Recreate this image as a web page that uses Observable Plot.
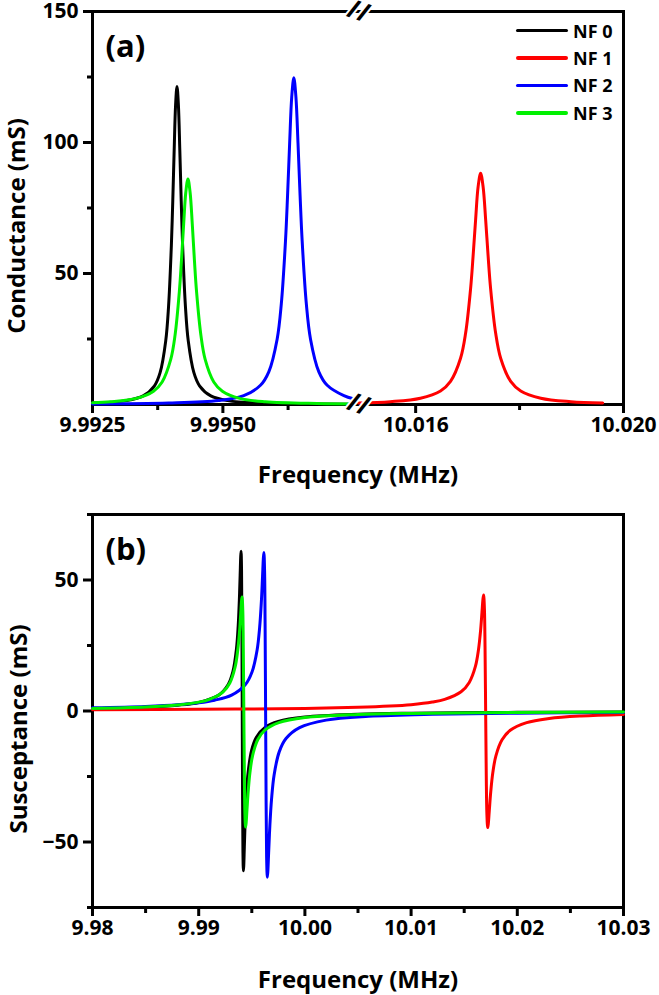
<!DOCTYPE html>
<html><head><meta charset="utf-8">
<script src="https://cdn.jsdelivr.net/npm/d3@7"></script>
<script src="https://cdn.jsdelivr.net/npm/@observablehq/plot@0.6"></script>
<style>
body{margin:0;background:#fff;font-family:"Open Sans",sans-serif;font-weight:700;}
#wrap{position:relative;width:659px;height:995px;}
#legend{position:absolute;left:516px;top:17px;}
.row{display:flex;align-items:center;height:27.4px;font-size:18px;color:#000;}
.sw{width:52px;height:3.5px;margin-right:5px;border-radius:2px;}
svg{display:block}
</style></head><body><div id="wrap"><div id="panelA"></div><div id="panelB"></div><div id="legend"></div></div>
<script>
// ---------- series ----------
const seriesNames = ["NF 0", "NF 1", "NF 2", "NF 3"];
const seriesColors = ["#000000", "#ff0000", "#0000ff", "#00f000"];

// ---------- (a) conductance (MHz, mS) ----------
const nf0G = [[9.99250,0.53],[9.993148,1.48],[9.993472,3.28],[9.993688,7.14],[9.993796,12.14],[9.993904,24.28],[9.993958,37.35],[9.994012,60.7],[9.994039,77.7],[9.994066,97.1],[9.994093,114.3],[9.99412,121.4],[9.994147,114.3],[9.994174,97.1],[9.994201,77.7],[9.994228,60.7],[9.994282,37.35],[9.994336,24.28],[9.994444,12.14],[9.994552,7.14],[9.994768,3.28],[9.995092,1.48],[9.99574,0.53],[9.9965,0.25],[9.9975,0.13]];
const nf1G = [[10.0149,0.59],[10.015513,1.08],[10.016092,2.39],[10.016478,5.19],[10.016671,8.83],[10.016864,17.66],[10.016961,27.17],[10.017057,44.15],[10.017105,56.5],[10.017154,70.6],[10.017202,83.1],[10.01725,88.3],[10.017298,83.1],[10.017347,70.6],[10.017395,56.5],[10.017443,44.15],[10.01754,27.17],[10.017636,17.66],[10.017829,8.83],[10.018022,5.19],[10.018408,2.39],[10.018987,1.08],[10.0196,0.59]];
const nf2G = [[9.9925,0.21],[9.99396,0.55],[9.99492,1.52],[9.9954,3.37],[9.99572,7.34],[9.99588,12.47],[9.99604,24.94],[9.99612,38.37],[9.9962,62.35],[9.99624,79.8],[9.99628,99.8],[9.99632,117.4],[9.99636,124.7],[9.9964,117.4],[9.99644,99.8],[9.99648,79.8],[9.99652,62.35],[9.9966,38.37],[9.99668,24.94],[9.99684,12.47],[9.997,7.34],[9.99732,3.37],[9.9975,2.2]];
const nf3G = [[9.9925,0.70],[9.992845,1.05],[9.99334,2.33],[9.99367,5.06],[9.993835,8.61],[9.994,17.22],[9.994083,26.49],[9.994165,43.05],[9.994206,55.1],[9.994248,68.9],[9.994289,81.0],[9.99433,86.1],[9.994371,81.0],[9.994413,68.9],[9.994454,55.1],[9.994495,43.05],[9.994578,26.49],[9.99466,17.22],[9.994825,8.61],[9.99499,5.06],[9.99532,2.33],[9.995815,1.05],[9.996805,0.38],[9.9975,0.23]];

// ---------- (b) susceptance (MHz, mS) ----------
const nf0B = [[9.98,0.95],[9.985,1.47],[9.988,2.2],[9.99,3.27],[9.9919,6.09],[9.99278,10.1],[9.99322,15.0],[9.99355,23.5],[9.993715,32.2],[9.993825,42.1],[9.993902,51.8],[9.993957,59.0],[9.99399,61],[9.994034,53.8],[9.994067,33.6],[9.9941,0],[9.994133,-33.6],[9.994166,-53.8],[9.99421,-61],[9.994243,-59.0],[9.994298,-51.8],[9.994375,-42.1],[9.994485,-32.2],[9.99465,-23.5],[9.99498,-15.0],[9.99542,-10.1],[9.9963,-6.09],[9.9975,-3.95],[10.0,-2.28],[10.005,-1.23],[10.01,-0.84],[10.02,-0.52],[10.03,-0.37]];
const nf1B = [[9.98,0.46],[9.99,0.63],[10.0,1.0],[10.005,1.42],[10.008,1.89],[10.01,2.43],[10.012,3.4],[10.01316,4.41],[10.014704,7.32],[10.015476,10.9],[10.016055,17.0],[10.016345,23.4],[10.016538,30.5],[10.016673,37.6],[10.016769,42.8],[10.016827,44.25],[10.016904,39.0],[10.016962,24.4],[10.01702,0],[10.017078,-24.5],[10.017136,-39.3],[10.017213,-44.5],[10.017271,-43.0],[10.017367,-37.8],[10.017503,-30.7],[10.017696,-23.5],[10.017985,-17.1],[10.018564,-11.0],[10.019336,-7.37],[10.02088,-4.44],[10.023,-2.86],[10.026,-1.9],[10.03,-1.31]];
const nf2B = [[9.98,1.22],[9.985,1.76],[9.988,2.38],[9.99,3.15],[9.9915,4.13],[9.9931,6.04],[9.99438,10.0],[9.99502,14.9],[9.9955,23.3],[9.99574,32.0],[9.9959,41.7],[9.996012,51.4],[9.996092,58.5],[9.99614,60.5],[9.996204,53.4],[9.996252,33.3],[9.9963,0],[9.996348,-35.0],[9.996396,-56.0],[9.99646,-63.5],[9.996508,-61.4],[9.996588,-53.9],[9.9967,-43.8],[9.99686,-33.6],[9.9971,-24.4],[9.99758,-15.6],[9.99822,-10.5],[9.9995,-6.33],[10.002,-3.48],[10.006,-2.05],[10.012,-1.27],[10.02,-0.84],[10.03,-0.59]];
const nf3B = [[9.98,1.0],[9.985,1.55],[9.988,2.3],[9.99,3.38],[9.99095,4.34],[9.99227,7.2],[9.99293,10.7],[9.993425,16.7],[9.99367,23.0],[9.993838,30.0],[9.993953,36.9],[9.994036,42.1],[9.994085,43.5],[9.994151,38.4],[9.9942,23.9],[9.99425,0],[9.9943,-24.4],[9.994349,-39.1],[9.994415,-44.3],[9.994465,-42.8],[9.994547,-37.6],[9.994663,-30.6],[9.994828,-23.4],[9.995075,-17.0],[9.99557,-10.9],[9.99623,-7.33],[9.99755,-4.42],[10.0,-2.5],[10.005,-1.33],[10.01,-0.91],[10.02,-0.56],[10.03,-0.40]];

// ---------- axes ----------
const topXDomain = [9.9925, 9.9976, 10.0149, 10.020];   // broken axis
const topXTicks = [9.9925, 9.9950, 10.016, 10.020];
const topXMinor = [9.99375, 9.99625, 10.018];
const topYTicks = [50, 100, 150];
const topYMinor = [25, 75, 125];
const botXTicks = [9.98, 9.99, 10.00, 10.01, 10.02, 10.03];
const botXMinor = [9.985, 9.995, 10.005, 10.015, 10.025];
const botYTicks = [-50, 0, 50];
const botYMinor = [-75, -25, 25, 75];

(function () {
const F = "Open Sans";
const txt = {fontFamily: F, fontWeight: 700, fill: "black"};

const topSets = [nf0G, nf1G, nf2G, nf3G];
const plotA = Plot.plot({
  width: 659, height: 490,
  marginLeft: 92, marginRight: 36, marginTop: 11, marginBottom: 86,
  style: {fontFamily: F, fontWeight: 700, fontSize: "21px", color: "black", background: "white", overflow: "visible"},
  x: {type: "linear", domain: topXDomain, range: [92, 358, 358, 623]},
  y: {domain: [0, 150], range: [404, 11]},
  marks: [
    Plot.axisX({ticks: topXTicks, tickSize: 9, tickPadding: 4, strokeWidth: 3, fontSize: 21, ...txt, tickFormat: d => d < 10 ? d.toFixed(4) : d.toFixed(3), label: null}),
    Plot.axisX({ticks: topXMinor, tickSize: 6, strokeWidth: 3, tickFormat: () => "", label: null}),
    Plot.axisY({ticks: topYTicks, tickSize: 9, tickPadding: 5, strokeWidth: 3, fontSize: 21, ...txt, label: null}),
    Plot.axisY({ticks: topYMinor, tickSize: 5, strokeWidth: 3, tickFormat: () => "", label: null}),
    Plot.frame({stroke: "black", strokeWidth: 3}),
    ...topSets.map((d, i) => Plot.line(d, {x: p => p[0], y: p => p[1], stroke: seriesColors[i], strokeWidth: 3, curve: "catmull-rom", strokeLinejoin: "round"})),
    Plot.text([0, 150], {x: () => 9.9976, y: d => d, text: () => "//", fontSize: 26, fontWeight: 700, fontFamily: F, fill: "black", stroke: "white", strokeWidth: 4, rotate: 18}),
    Plot.text(["(a)"], {frameAnchor: "top-left", dx: 13, dy: 36, lineAnchor: "middle", textAnchor: "start", fontSize: 31, ...txt}),
    Plot.text(["Frequency (MHz)"], {frameAnchor: "bottom", dy: 71, lineAnchor: "middle", textAnchor: "middle", fontSize: 24, ...txt}),
    Plot.text(["Conductance (mS)"], {frameAnchor: "left", dx: -75, dy: 18, rotate: -90, lineAnchor: "middle", textAnchor: "middle", fontSize: 24, ...txt})
  ]
});
document.getElementById("panelA").append(plotA);

const botSets = [nf0B, nf1B, nf2B, nf3B];
const plotB = Plot.plot({
  width: 659, height: 505,
  marginLeft: 92, marginRight: 36, marginTop: 24, marginBottom: 88,
  style: {fontFamily: F, fontWeight: 700, fontSize: "21px", color: "black", background: "white", overflow: "visible"},
  x: {domain: [9.98, 10.03], range: [92, 623]},
  y: {domain: [-75, 75], range: [417, 24]},
  marks: [
    Plot.axisX({ticks: botXTicks, tickSize: 9, tickPadding: 4, strokeWidth: 3, fontSize: 21, ...txt, tickFormat: d => d.toFixed(2), label: null}),
    Plot.axisX({ticks: botXMinor, tickSize: 6, strokeWidth: 3, tickFormat: () => "", label: null}),
    Plot.axisY({ticks: botYTicks, tickSize: 9, tickPadding: 5, strokeWidth: 3, fontSize: 21, ...txt, label: null}),
    Plot.axisY({ticks: botYMinor, tickSize: 5, strokeWidth: 3, tickFormat: () => "", label: null}),
    Plot.frame({stroke: "black", strokeWidth: 3}),
    ...botSets.map((d, i) => Plot.line(d, {x: p => p[0], y: p => p[1], stroke: seriesColors[i], strokeWidth: 3, curve: "catmull-rom", strokeLinejoin: "round"})),
    Plot.text(["(b)"], {frameAnchor: "top-left", dx: 13, dy: 36, lineAnchor: "middle", textAnchor: "start", fontSize: 31, ...txt}),
    Plot.text(["Frequency (MHz)"], {frameAnchor: "bottom", dy: 73, lineAnchor: "middle", textAnchor: "middle", fontSize: 24, ...txt}),
    Plot.text(["Susceptance (mS)"], {frameAnchor: "left", dx: -73, dy: 18, rotate: -90, lineAnchor: "middle", textAnchor: "middle", fontSize: 24, ...txt})
  ]
});
document.getElementById("panelB").append(plotB);

// legend
const lg = document.getElementById("legend");
seriesNames.forEach((n, i) => {
  const r = document.createElement("div"); r.className = "row";
  const s = document.createElement("span"); s.className = "sw"; s.style.background = seriesColors[i];
  const t = document.createElement("span"); t.textContent = n;
  r.append(s, t); lg.append(r);
});
})();
</script></body></html>
